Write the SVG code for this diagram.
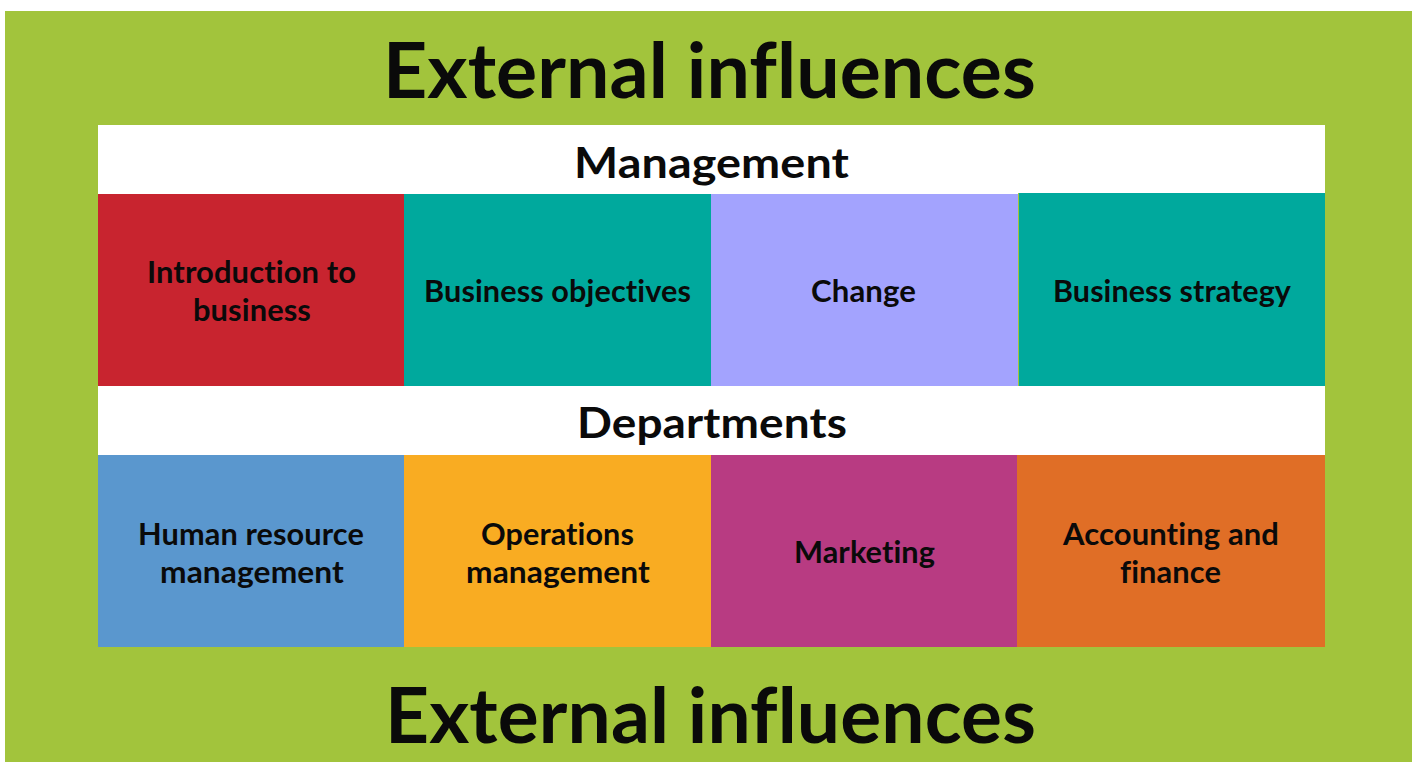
<svg xmlns="http://www.w3.org/2000/svg" width="1416" height="762" viewBox="0 0 1416 762">
  <style>
    text { font-family: Lato, "Open Sans", "Liberation Sans", sans-serif; font-weight: 700; fill: #0a0a0a; text-anchor: middle; font-variant-ligatures: none; font-feature-settings: "liga" 0, "clig" 0; letter-spacing: 0.1px; }
    .title { font-size: 77px; }
    .head { font-size: 42px; }
    .cell { font-size: 30px; }
  </style>
  <!-- page background and outer band -->
  <rect x="0" y="0" width="1416" height="762" fill="#ffffff"/>
  <rect id="external" x="5" y="11" width="1407" height="751" fill="#a2c43c"/>
  <!-- inner white panel -->
  <rect id="panel" x="98" y="125" width="1227" height="522" fill="#ffffff"/>

  <text class="title" x="709.5" y="98" textLength="653" lengthAdjust="spacingAndGlyphs">External influences</text>
  <text class="title" x="710.5" y="743" textLength="651" lengthAdjust="spacingAndGlyphs">External influences</text>

  <g id="management">
    <text class="head" x="711.5" y="178" textLength="275" lengthAdjust="spacingAndGlyphs">Management</text>
  </g>

  <g id="intro">
    <rect x="98" y="194" width="306" height="192" fill="#c8242f"/>
    <text class="cell" x="251.5" y="283" textLength="209" lengthAdjust="spacingAndGlyphs">Introduction to</text>
    <text class="cell" x="252" y="321" textLength="118" lengthAdjust="spacingAndGlyphs">business</text>
  </g>
  <g id="objectives">
    <rect x="404" y="194" width="307" height="192" fill="#00a99d"/>
    <text class="cell" x="557.5" y="302" textLength="267" lengthAdjust="spacingAndGlyphs">Business objectives</text>
  </g>
  <g id="change">
    <rect x="711" y="194" width="307" height="192" fill="#a3a3fe"/>
    <text class="cell" x="863.5" y="302" textLength="105" lengthAdjust="spacingAndGlyphs">Change</text>
  </g>
  <g id="strategy">
    <rect x="1018" y="193" width="1" height="193" fill="#a2c43c"/>
    <rect x="1019" y="193" width="306" height="193" fill="#00a99d"/>
    <text class="cell" x="1172" y="302" textLength="238" lengthAdjust="spacingAndGlyphs">Business strategy</text>
  </g>

  <g id="departments">
    <text class="head" x="712" y="438" textLength="270" lengthAdjust="spacingAndGlyphs">Departments</text>
  </g>

  <g id="hrm">
    <rect x="98" y="455" width="306" height="192" fill="#5a97ce"/>
    <text class="cell" x="251" y="545" textLength="226" lengthAdjust="spacingAndGlyphs">Human resource</text>
    <text class="cell" x="252" y="583" textLength="184" lengthAdjust="spacingAndGlyphs">management</text>
  </g>
  <g id="operations">
    <rect x="404" y="455" width="307" height="192" fill="#f9ac22"/>
    <text class="cell" x="557.5" y="545" textLength="153" lengthAdjust="spacingAndGlyphs">Operations</text>
    <text class="cell" x="558" y="583" textLength="184" lengthAdjust="spacingAndGlyphs">management</text>
  </g>
  <g id="marketing">
    <rect x="711" y="455" width="306" height="192" fill="#b83b82"/>
    <text class="cell" x="864.5" y="563" textLength="141" lengthAdjust="spacingAndGlyphs">Marketing</text>
  </g>
  <g id="accounting">
    <rect x="1017" y="455" width="308" height="192" fill="#e06e26"/>
    <text class="cell" x="1171" y="545" textLength="216" lengthAdjust="spacingAndGlyphs">Accounting and</text>
    <text class="cell" x="1170.5" y="583" textLength="101" lengthAdjust="spacingAndGlyphs">finance</text>
  </g>

  <!-- no connectors in this layout -->
  <g id="connectors"/>
</svg>
